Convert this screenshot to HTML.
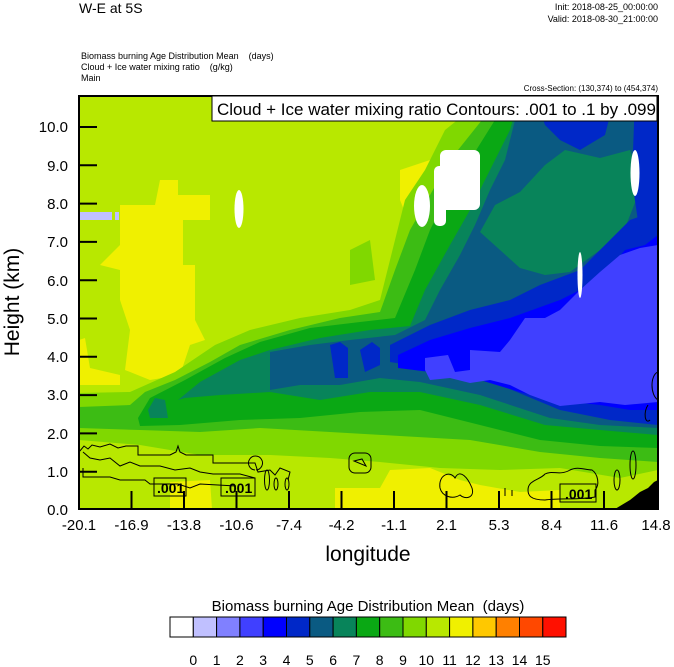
<!DOCTYPE html>
<html><head><meta charset="utf-8"><style>
html,body{margin:0;padding:0;background:#fff;}
body{width:674px;height:667px;position:relative;overflow:hidden;font-family:"Liberation Sans",sans-serif;}
</style></head><body>
<svg width="674" height="667" style="position:absolute;left:0;top:0" font-family="Liberation Sans, sans-serif">
<defs><clipPath id="c"><rect x="79" y="96" width="579" height="413"/></clipPath></defs>
<g clip-path="url(#c)">
<rect x="79" y="96" width="579" height="413" fill="#b8e800"/>
<polygon fill="#f0f000" points="120,205 155,205 160,180 178,180 178,195 210,195 210,220 183,220 183,265 195,265 195,320 205,340 190,345 180,375 150,380 125,370 130,330 120,300 120,270 100,265 120,245" />
<polygon fill="#f0f000" points="79,340 85,338 90,368 120,375 120,385 79,385"/>
<polygon fill="#f0f000" points="170,482 210,480 212,509 170,509"/>
<polygon fill="#f0f000" points="335,488 380,488 390,470 430,468 460,480 480,485 520,492 560,490 560,509 335,509"/>
<polygon fill="#f0f000" points="400,170 430,160 440,145 490,145 490,200 470,215 440,225 410,225 400,200"/>
<polygon fill="#80d800" points="79,393 130,392 175,372 215,345 250,330 300,318 350,310 380,300 395,240 405,200 425,170 445,130 470,110 500,96 658,96 658,470 620,478 560,468 500,470 440,468 380,462 330,458 270,455 200,455 140,445 79,440"/>
<polygon fill="#80d800" points="350,250 370,240 375,280 350,285"/>
<polygon fill="#3cbc14" points="79,407 130,405 145,392 175,380 210,362 240,345 290,330 340,318 380,312 395,270 410,230 430,195 450,160 470,135 490,110 500,96 658,96 658,462 600,458 540,452 470,440 400,436 330,432 260,428 200,432 140,430 79,428"/>
<polygon fill="#0aa814" points="138,418 150,398 185,380 225,358 260,342 310,328 360,322 395,318 415,270 430,230 450,190 470,160 495,120 505,96 658,96 658,448 600,446 540,440 480,425 420,410 360,412 300,418 240,420 180,425 140,426"/>
<polygon fill="#08845a" points="148,410 155,398 165,400 168,418 150,418"/>
<polygon fill="#08845a" points="178,400 200,382 240,360 270,350 320,338 370,330 410,326 425,290 450,245 470,210 490,170 510,130 520,96 658,96 658,435 600,430 545,425 480,405 420,392 370,392 320,400 270,392 220,395 185,398"/>
<polygon fill="#0a5a82" points="270,352 310,345 350,340 395,335 425,320 440,290 460,255 475,225 490,190 505,160 515,120 520,96 658,96 658,428 600,425 550,418 480,395 420,382 380,378 340,385 300,385 270,390"/>
<!-- 6 tongue in upper right -->
<polygon fill="#08845a" points="480,232 495,205 520,192 545,165 565,150 600,158 630,150 642,185 625,228 600,250 570,272 545,275 520,268 500,250"/>
<polygon fill="#0028c8" points="330,345 340,342 348,348 348,378 335,378"/>
<polygon fill="#0028c8" points="360,350 372,342 380,348 380,365 365,372"/>
<polygon fill="#0028c8" points="390,345 430,325 470,310 510,300 540,285 580,270 610,240 630,220 658,210 658,425 610,420 560,410 500,385 440,370 390,362"/>
<polygon fill="#0028c8" points="535,96 615,96 605,135 580,150 560,140 545,125"/>
<polygon fill="#0028c8" points="635,96 658,96 658,240 640,235 632,180"/>
<polygon fill="#0000ff" points="398,355 430,340 470,328 510,318 560,300 600,280 625,250 645,245 658,235 658,410 630,410 600,405 555,400 520,392 480,380 430,372 398,368"/>
<polygon fill="#4040ff" points="425,358 448,355 455,372 470,370 470,350 500,352 510,340 525,318 545,318 560,310 580,290 600,272 620,255 640,248 658,245 658,402 625,405 600,402 560,406 530,395 510,385 490,380 470,383 450,378 430,380 425,370"/>
<rect x="79" y="212" width="33" height="8" fill="#c0c0ff"/>
<rect x="115" y="212" width="4" height="8" fill="#c0c0ff"/>
<ellipse cx="239" cy="209" rx="4.5" ry="19" fill="#fff"/>
<ellipse cx="422" cy="206" rx="8" ry="21" fill="#fff"/>
<rect x="440" y="150" width="40" height="60" rx="6" fill="#fff"/>
<rect x="434" y="166" width="12" height="60" rx="5" fill="#fff"/>
<ellipse cx="635" cy="173" rx="4.5" ry="23" fill="#fff"/>
<ellipse cx="580" cy="275" rx="2.5" ry="23" fill="#fff"/>
<polygon fill="#000" points="615,509 630,500 640,492 648,488 654,482 658,480 658,509"/>
<g fill="none" stroke="#000" stroke-width="1">
<path d="M79,452 L84,446 88,449 92,445 100,447 110,444 118,448 126,446 138,446 138,455 170,455 176,452 178,446 180,452 186,455 213,455 213,463 255,463 258,472 270,470 275,475 280,468 290,472 288,480"/>
<path d="M83,452 L90,458 100,460 110,458 120,466 130,462 140,466 160,466 175,470 190,468 200,472 213,474 240,474 255,478"/>
<path d="M83,468 L83,477 110,477 120,480 145,480 150,484 178,484 190,488 200,484 236,486"/>
<path d="M255,470 a7,7 0 1 1 1,0" />
<ellipse cx="267" cy="480" rx="2.5" ry="10"/>
<ellipse cx="276" cy="484" rx="2" ry="6"/>
<ellipse cx="287" cy="484" rx="2" ry="6"/>
<rect x="349" y="453" width="22" height="20" rx="6"/>
<path d="M354,461 L362,459 366,466 Z"/>
<path d="M440,488 C438,475 450,470 455,478 C460,468 468,478 472,488 C475,498 465,500 460,495 C452,500 442,496 440,488 Z"/>
<path d="M505,488 L505,496 M512,490 L512,496"/>
<path d="M528,490 C528,480 540,480 545,474 C552,470 560,476 570,470 C578,466 585,470 592,470 C598,474 600,485 595,490 L595,497 C580,500 560,498 545,500 C530,500 528,495 528,490 Z"/>
<ellipse cx="617" cy="480" rx="3" ry="10"/>
<ellipse cx="633" cy="465" rx="3" ry="14"/>
<path d="M658,372 C650,375 650,395 658,400"/>
<path d="M648,405 C643,412 645,425 650,420"/>
</g>
</g>
<g font-size="14" font-weight="bold" fill="#000">
<rect x="154" y="478" width="32" height="18" fill="none" stroke="#000"/>
<text x="157" y="493">.001</text>
<rect x="221" y="478" width="34" height="18" fill="none" stroke="#000"/>
<text x="225" y="493">.001</text>
<rect x="560" y="484" width="36" height="18" fill="none" stroke="#000"/>
<text x="565" y="499">.001</text>
</g>
<rect x="79" y="96" width="579" height="413" fill="none" stroke="#000" stroke-width="2"/>
<g stroke="#000" stroke-width="2">
<line x1="79" y1="471.7" x2="97" y2="471.7"/><line x1="79" y1="433.4" x2="97" y2="433.4"/>
<line x1="79" y1="395.1" x2="97" y2="395.1"/><line x1="79" y1="356.8" x2="97" y2="356.8"/>
<line x1="79" y1="318.5" x2="97" y2="318.5"/><line x1="79" y1="280.2" x2="97" y2="280.2"/>
<line x1="79" y1="241.9" x2="97" y2="241.9"/><line x1="79" y1="203.6" x2="97" y2="203.6"/>
<line x1="79" y1="165.3" x2="97" y2="165.3"/><line x1="79" y1="127" x2="97" y2="127"/>
<line x1="131.5" y1="491" x2="131.5" y2="509"/><line x1="184" y1="491" x2="184" y2="509"/>
<line x1="236.5" y1="491" x2="236.5" y2="509"/><line x1="289" y1="491" x2="289" y2="509"/>
<line x1="341.5" y1="491" x2="341.5" y2="509"/><line x1="394" y1="491" x2="394" y2="509"/>
<line x1="446.5" y1="491" x2="446.5" y2="509"/><line x1="499" y1="491" x2="499" y2="509"/>
<line x1="551.5" y1="491" x2="551.5" y2="509"/><line x1="604" y1="491" x2="604" y2="509"/>
</g>
<g font-size="15" text-anchor="end" fill="#000">
<text x="68" y="515">0.0</text><text x="68" y="477">1.0</text><text x="68" y="439">2.0</text>
<text x="68" y="400">3.0</text><text x="68" y="362">4.0</text><text x="68" y="324">5.0</text>
<text x="68" y="286">6.0</text><text x="68" y="247">7.0</text><text x="68" y="209">8.0</text>
<text x="68" y="171">9.0</text><text x="68" y="132">10.0</text>
</g>
<g font-size="15" text-anchor="middle" fill="#000">
<text x="79" y="530">-20.1</text><text x="131.5" y="530">-16.9</text><text x="184" y="530">-13.8</text>
<text x="236.5" y="530">-10.6</text><text x="289" y="530">-7.4</text><text x="341.5" y="530">-4.2</text>
<text x="394" y="530">-1.1</text><text x="446.5" y="530">2.1</text><text x="499" y="530">5.3</text>
<text x="551.5" y="530">8.4</text><text x="604" y="530">11.6</text><text x="656" y="530">14.8</text>
</g>
<text x="368" y="561" font-size="21" text-anchor="middle">longitude</text>
<text transform="translate(19,302) rotate(-90)" font-size="21" text-anchor="middle">Height (km)</text>
<rect x="212" y="96" width="445" height="25" fill="#fff" stroke="#000" stroke-width="1"/>
<text x="217" y="115" font-size="17">Cloud + Ice water mixing ratio Contours: .001 to .1 by .099</text>
<text x="79" y="13" font-size="14">W-E at 5S</text>
<text x="658" y="10" font-size="9" text-anchor="end">Init: 2018-08-25_00:00:00</text>
<text x="658" y="22" font-size="9" text-anchor="end">Valid: 2018-08-30_21:00:00</text>
<text x="81" y="59" font-size="9" xml:space="preserve">Biomass burning Age Distribution Mean    (days)</text>
<text x="81" y="70" font-size="9" xml:space="preserve">Cloud + Ice water mixing ratio    (g/kg)</text>
<text x="81" y="81" font-size="9">Main</text>
<text x="658" y="91" font-size="8" text-anchor="end">Cross-Section: (130,374) to (454,374)</text>
<text x="368" y="611" font-size="15" text-anchor="middle" xml:space="preserve">Biomass burning Age Distribution Mean  (days)</text>
<g stroke="#000" stroke-width="1">
<rect x="170" y="617" width="23.3" height="20" fill="#fff"/>
<rect x="193.3" y="617" width="23.3" height="20" fill="#c0c0ff"/>
<rect x="216.6" y="617" width="23.3" height="20" fill="#8080ff"/>
<rect x="239.9" y="617" width="23.3" height="20" fill="#4040ff"/>
<rect x="263.2" y="617" width="23.3" height="20" fill="#0000ff"/>
<rect x="286.5" y="617" width="23.3" height="20" fill="#0028c8"/>
<rect x="309.8" y="617" width="23.3" height="20" fill="#0a5a82"/>
<rect x="333.1" y="617" width="23.3" height="20" fill="#08845a"/>
<rect x="356.4" y="617" width="23.3" height="20" fill="#0aa814"/>
<rect x="379.7" y="617" width="23.3" height="20" fill="#3cbc14"/>
<rect x="403" y="617" width="23.3" height="20" fill="#80d800"/>
<rect x="426.3" y="617" width="23.3" height="20" fill="#b8e800"/>
<rect x="449.6" y="617" width="23.3" height="20" fill="#f0f000"/>
<rect x="472.9" y="617" width="23.3" height="20" fill="#ffc800"/>
<rect x="496.2" y="617" width="23.3" height="20" fill="#ff8000"/>
<rect x="519.5" y="617" width="23.3" height="20" fill="#ff4800"/>
<rect x="542.8" y="617" width="23.2" height="20" fill="#ff1000"/>
</g>
<g font-size="14" text-anchor="middle">
<text x="193.3" y="665">0</text><text x="216.6" y="665">1</text><text x="239.9" y="665">2</text>
<text x="263.2" y="665">3</text><text x="286.5" y="665">4</text><text x="309.8" y="665">5</text>
<text x="333.1" y="665">6</text><text x="356.4" y="665">7</text><text x="379.7" y="665">8</text>
<text x="403" y="665">9</text><text x="426.3" y="665">10</text><text x="449.6" y="665">11</text>
<text x="472.9" y="665">12</text><text x="496.2" y="665">13</text><text x="519.5" y="665">14</text>
<text x="542.8" y="665">15</text>
</g>
</svg>
</body></html>
